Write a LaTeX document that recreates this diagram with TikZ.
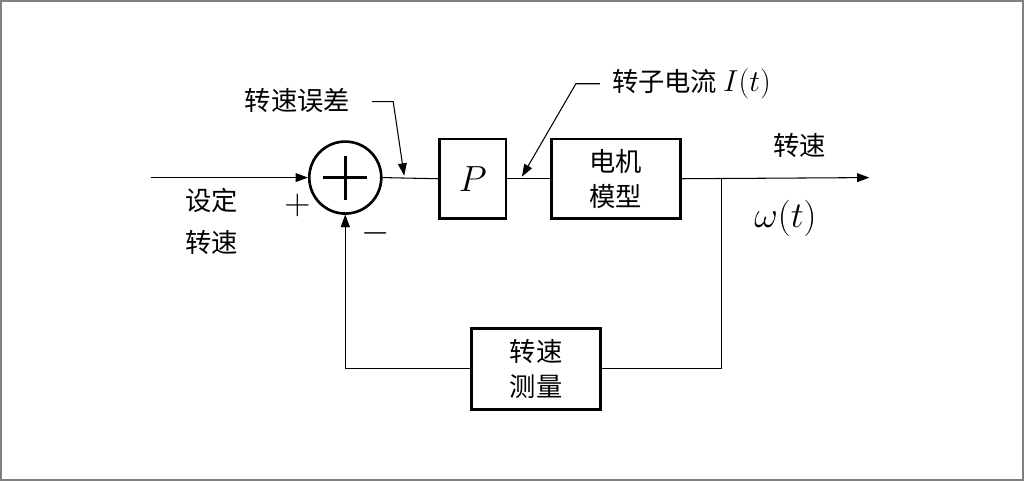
\documentclass[tikz,border=0pt]{standalone}
\usepackage{fontspec}
\newfontfamily\cjk{Noto Sans CJK SC}
\usetikzlibrary{arrows.meta}
\begin{document}
\begin{tikzpicture}[x=0.02cm,y=-0.02cm,
  blk/.style={draw,line width=1.5pt,inner sep=0,anchor=north west},
  lbl/.style={font=\cjk\fontsize{15}{20}\selectfont,align=center},
  arr/.style={-{Triangle[length=7pt,width=5pt]}},
  ln/.style={line width=0.6pt}]
\draw[gray,line width=1pt] (0,0) rectangle (1024,480);
\useasboundingbox (0,0) rectangle (1024,480);
\node[circle,draw,line width=1.5pt,minimum size=58pt*0.708,inner sep=0] (s) at (345,177) {};
\draw[line width=1.5pt] (323,177) -- (367,177) (345,155) -- (345,199);
\node[blk,minimum width=67*0.567pt*1.0,minimum height=80*0.567pt] (p) at (438,137) {};
\node at (p.center) {\fontsize{20}{20}\selectfont$P$};
\node[blk,minimum width=130*0.567pt,minimum height=80*0.567pt] (m) at (550,137) {};
\node[lbl] at (m.center) {电机\\模型};
\node[blk,minimum width=130*0.567pt,minimum height=81*0.567pt] (f) at (470,327) {};
\node[lbl] at (f.center) {转速\\测量};
\coordinate (in) at (150,177);
\coordinate (out) at (870,177);
\coordinate (br) at (722,177);
\draw[ln,arr] (in) -- (s.west);
\draw[ln] (s.east) -- (p.west);
\draw[ln] (p.east) -- (m.west);
\draw[ln,arr] (m.east) -- (out);
\draw[ln,arr] (br) |- (f.east) (f.west) -| (s.south);
\draw[ln,arr] (f.west) -| (s.south);
\coordinate (l1) at (372,101); \coordinate (l1b) at (393,101); \coordinate (l1c) at (404,175);
\draw[ln,arr] (l1) -- (l1b) -- (l1c);
\coordinate (l2) at (600,83); \coordinate (l2b) at (576,83); \coordinate (l2c) at (522,176);
\draw[ln,arr] (l2) -- (l2b) -- (l2c);
\node[lbl] (t1) at (297,100) {转速误差};
\node[lbl,anchor=west] (t2) at (606,83) {转子电流 \fontsize{16}{16}\selectfont$I(t)$};
\node[lbl] (t3) at (800,145) {转速};
\node (t4) at (786,218) {\fontsize{22}{22}\selectfont$\omega\bigl(t\bigr)$};
\node[lbl] (t5) at (211,221) {设定\\[4pt]转速};
\node (pl) at (297,205) {\fontsize{20}{20}\selectfont$+$};
\node (mi) at (375,233) {\fontsize{20}{20}\selectfont$-$};
\end{tikzpicture}
\end{document}
